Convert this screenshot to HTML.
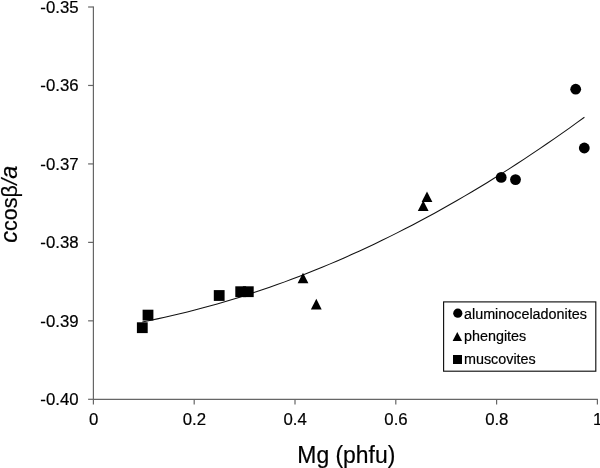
<!DOCTYPE html><html><head><meta charset="utf-8"><title>Mg (phfu) vs ccosβ/a</title>
<style>html,body{margin:0;padding:0;background:#fff;}svg{display:block;}text{font-family:"Liberation Sans",Arial,sans-serif;fill:#000;stroke:#000;stroke-width:0.2px;}</style></head><body>
<svg width="600" height="468" viewBox="0 0 600 468">
<rect width="600" height="468" fill="#fff"/>
<g stroke="#666" stroke-width="1.2" fill="none">
<path d="M93.4,6.5 V399.3"/>
<path d="M92.9,399.3 H597.9"/>
<path d="M88.10000000000001,7.00 H93.4"/>
<path d="M93.40,399.3 V404.6"/>
<path d="M88.10000000000001,85.46 H93.4"/>
<path d="M194.20,399.3 V404.6"/>
<path d="M88.10000000000001,163.92 H93.4"/>
<path d="M295.00,399.3 V404.6"/>
<path d="M88.10000000000001,242.38 H93.4"/>
<path d="M395.80,399.3 V404.6"/>
<path d="M88.10000000000001,320.84 H93.4"/>
<path d="M496.60,399.3 V404.6"/>
<path d="M88.10000000000001,399.30 H93.4"/>
<path d="M597.40,399.3 V404.6"/>
</g>
<g font-size="16.8px">
<text x="78.6" y="12.9" text-anchor="end">-0.35</text>
<text x="78.6" y="91.4" text-anchor="end">-0.36</text>
<text x="78.6" y="169.8" text-anchor="end">-0.37</text>
<text x="78.6" y="248.3" text-anchor="end">-0.38</text>
<text x="78.6" y="326.7" text-anchor="end">-0.39</text>
<text x="78.6" y="405.2" text-anchor="end">-0.40</text>
<text x="93.6" y="425.3" text-anchor="middle">0</text>
<text x="194.4" y="425.3" text-anchor="middle">0.2</text>
<text x="295.2" y="425.3" text-anchor="middle">0.4</text>
<text x="396.0" y="425.3" text-anchor="middle">0.6</text>
<text x="496.8" y="425.3" text-anchor="middle">0.8</text>
<text x="597.6" y="425.3" text-anchor="middle">1</text>
</g>
<text transform="translate(346.3,462.6) scale(1,1.06)" font-size="22.9px" text-anchor="middle">Mg (phfu)</text>
<text transform="translate(17.3,204.2) rotate(-90)" font-size="21.5px" text-anchor="middle"><tspan font-style="italic" font-size="23.5px">c</tspan>cosβ<tspan font-style="italic" dx="0.6">/</tspan><tspan font-style="italic" font-size="23.5px">a</tspan></text>
<path d="M142.3,321.94 L149.8,320.44 L157.3,318.88 L164.8,317.24 L172.3,315.54 L179.8,313.77 L187.3,311.94 L194.8,310.03 L202.2,308.06 L209.7,306.02 L217.2,303.91 L224.7,301.73 L232.2,299.49 L239.7,297.18 L247.2,294.80 L254.7,292.35 L262.2,289.83 L269.7,287.25 L277.2,284.59 L284.7,281.87 L292.2,279.08 L299.7,276.23 L307.2,273.30 L314.6,270.31 L322.1,267.25 L329.6,264.12 L337.1,260.92 L344.6,257.66 L352.1,254.32 L359.6,250.92 L367.1,247.45 L374.6,243.91 L382.1,240.31 L389.6,236.64 L397.1,232.89 L404.6,229.09 L412.1,225.21 L419.5,221.26 L427.0,217.25 L434.5,213.17 L442.0,209.02 L449.5,204.80 L457.0,200.51 L464.5,196.16 L472.0,191.74 L479.5,187.25 L487.0,182.69 L494.5,178.07 L502.0,173.37 L509.5,168.61 L517.0,163.78 L524.5,158.88 L531.9,153.92 L539.4,148.88 L546.9,143.78 L554.4,138.61 L561.9,133.37 L569.4,128.07 L576.9,122.69 L584.4,117.25" fill="none" stroke="#111" stroke-width="1.05"/>
<rect x="136.9" y="322.3" width="10.8" height="10.8" fill="#000"/>
<rect x="142.6" y="309.7" width="10.8" height="10.8" fill="#000"/>
<rect x="213.8" y="290.1" width="10.8" height="10.8" fill="#000"/>
<rect x="235.3" y="286.3" width="10.8" height="10.8" fill="#000"/>
<rect x="242.9" y="286.3" width="10.8" height="10.8" fill="#000"/>
<path d="M303.0,272.7 L308.4,283.3 H297.6 Z" fill="#000"/>
<path d="M316.3,298.8 L321.7,309.4 H310.9 Z" fill="#000"/>
<path d="M423.2,200.4 L428.6,211.0 H417.8 Z" fill="#000"/>
<path d="M427.0,191.5 L432.4,202.1 H421.6 Z" fill="#000"/>
<circle cx="575.7" cy="89.2" r="5.4" fill="#000"/>
<circle cx="584.3" cy="148" r="5.4" fill="#000"/>
<circle cx="501.2" cy="177.4" r="5.4" fill="#000"/>
<circle cx="515.5" cy="179.6" r="5.4" fill="#000"/>
<rect x="443.6" y="301.9" width="152.2" height="69.3" fill="#fff" stroke="#111" stroke-width="1.15"/>
<circle cx="457.8" cy="313.2" r="4.6" fill="#000"/>
<path d="M457.3,332 L462,341 H452.6 Z" fill="#000"/>
<rect x="453" y="355" width="9" height="9" fill="#000"/>
<g font-size="14.35px">
<text x="464" y="318.5">aluminoceladonites</text>
<text x="464" y="341">phengites</text>
<text x="464" y="364">muscovites</text>
</g>
</svg></body></html>
